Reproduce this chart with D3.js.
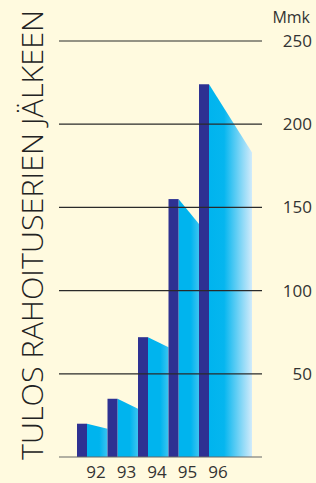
<!DOCTYPE html>
<html>
<head>
<meta charset="utf-8">
<script src="https://cdn.jsdelivr.net/npm/d3@7"></script>
<style>
  body { margin: 0; background: #fffadf; }
  svg { display: block; }
</style>
</head>
<body>
<div id="chart"></div>
<script>
// data (Mmk)
const years = ["92", "93", "94", "95", "96"];
const results = [20, 35, 72, 155, 224];
// where the shaded side face ends on its right edge
const sideEnds = [17, 29, 66, 140, 183];
const ticks = [50, 100, 150, 200, 250];
const title = "TULOS RAHOITUSERIEN JÄLKEEN";
const unit = "Mmk";

const width = 316, height = 483;

const svg = d3.select("#chart")
  .append("svg")
  .attr("width", width)
  .attr("height", height);

const y = d3.scaleLinear().domain([0, 250]).range([457, 41]);
const x = d3.scaleBand().domain(years).range([77, 229.5]).padding(0);

const barW = 10;
const lastEnd = 252;

// gradients for the side faces
const defs = svg.append("defs");
const gSide = defs.append("linearGradient").attr("id", "side");
gSide.append("stop").attr("offset", "0").attr("stop-color", "#00b4ee");
gSide.append("stop").attr("offset", "0.6").attr("stop-color", "#00b4ee");
gSide.append("stop").attr("offset", "1").attr("stop-color", "#3cc4f1");
const gLast = defs.append("linearGradient").attr("id", "last");
gLast.append("stop").attr("offset", "0").attr("stop-color", "#00b4ee");
gLast.append("stop").attr("offset", "0.35").attr("stop-color", "#05b6ef");
gLast.append("stop").attr("offset", "1").attr("stop-color", "#d2ebfb");

// side faces
svg.selectAll("path.side")
  .data(years)
  .enter()
  .append("path")
  .attr("class", "side")
  .attr("d", (d, i) => {
    const x0 = x(d) + barW;
    const x1 = i < years.length - 1 ? x(years[i + 1]) : lastEnd;
    return `M${x0},${y(0)}L${x0},${y(results[i])}L${x1},${y(sideEnds[i])}L${x1},${y(0)}Z`;
  })
  .attr("fill", (d, i) => i < years.length - 1 ? "url(#side)" : "url(#last)");

// front bars
svg.selectAll("rect.bar")
  .data(years)
  .enter()
  .append("rect")
  .attr("class", "bar")
  .attr("x", d => x(d))
  .attr("y", (d, i) => y(results[i]))
  .attr("width", barW)
  .attr("height", (d, i) => y(0) - y(results[i]))
  .attr("fill", "#2e3192");

// grid lines on top
svg.selectAll("line.grid")
  .data([0].concat(ticks))
  .enter()
  .append("line")
  .attr("class", "grid")
  .attr("x1", 59)
  .attr("x2", 262)
  .attr("y1", d => y(d))
  .attr("y2", d => y(d))
  .attr("stroke", d => d === 0 ? "#666" : "#2a2a2a")
  .attr("stroke-width", 1.2);

// tick labels on the right
svg.selectAll("text.tick")
  .data(ticks)
  .enter()
  .append("text")
  .attr("class", "tick")
  .text(d => d)
  .attr("x", 312)
  .attr("y", d => y(d) + 6)
  .attr("text-anchor", "end")
  .attr("font-family", "Open Sans, sans-serif")
  .attr("font-size", "17px")
  .attr("fill", "#333");

svg.append("text")
  .text(unit)
  .attr("x", 310)
  .attr("y", 23)
  .attr("text-anchor", "end")
  .attr("font-family", "Open Sans, sans-serif")
  .attr("font-size", "16px")
  .attr("fill", "#333");

// year labels
svg.selectAll("text.year")
  .data(years)
  .enter()
  .append("text")
  .attr("class", "year")
  .text(d => d)
  .attr("x", d => x(d) + 19)
  .attr("y", 478)
  .attr("text-anchor", "middle")
  .attr("font-family", "Open Sans, sans-serif")
  .attr("font-size", "17px")
  .attr("fill", "#333");

// vertical title
svg.append("text")
  .text(title)
  .attr("transform", "translate(43,460) rotate(-90)")
  .attr("textLength", 450)
  .attr("lengthAdjust", "spacingAndGlyphs")
  .attr("font-family", "Open Sans, sans-serif")
  .attr("font-weight", 300)
  .attr("font-size", "30px")
  .attr("fill", "#222");
</script>
</body>
</html>
